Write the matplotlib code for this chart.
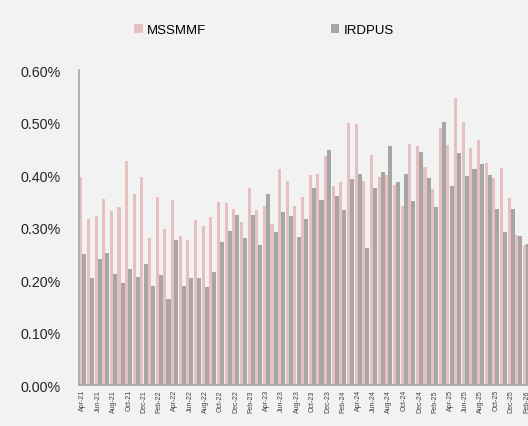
#!/usr/bin/env python3

import numpy as np
from matplotlib import pyplot as plt
from matplotlib.ticker import FuncFormatter

months = ["Apr-21", "May-21", "Jun-21", "Jul-21", "Aug-21", "Sep-21", "Oct-21", "Nov-21",
          "Dec-21", "Jan-22", "Feb-22", "Mar-22", "Apr-22", "May-22", "Jun-22", "Jul-22",
          "Aug-22", "Sep-22", "Oct-22", "Nov-22", "Dec-22", "Jan-23", "Feb-23", "Mar-23",
          "Apr-23", "May-23", "Jun-23", "Jul-23", "Aug-23", "Sep-23", "Oct-23", "Nov-23",
          "Dec-23", "Jan-24", "Feb-24", "Mar-24", "Apr-24", "May-24", "Jun-24", "Jul-24",
          "Aug-24", "Sep-24", "Oct-24", "Nov-24", "Dec-24", "Jan-25", "Feb-25", "Mar-25",
          "Apr-25", "May-25", "Jun-25", "Jul-25", "Aug-25", "Sep-25", "Oct-25", "Nov-25",
          "Dec-25", "Jan-26", "Feb-26"]

# values in percent
mssmmf = [0.396, 0.316, 0.322, 0.354, 0.331, 0.339, 0.427, 0.364, 0.396, 0.280,
          0.358, 0.297, 0.352, 0.284, 0.276, 0.314, 0.303, 0.320, 0.349, 0.347,
          0.335, 0.310, 0.375, 0.333, 0.341, 0.307, 0.411, 0.389, 0.341, 0.358,
          0.400, 0.402, 0.436, 0.379, 0.387, 0.499, 0.497, 0.389, 0.438, 0.396,
          0.400, 0.381, 0.341, 0.459, 0.455, 0.415, 0.373, 0.490, 0.457, 0.547,
          0.501, 0.451, 0.467, 0.423, 0.394, 0.413, 0.356, 0.286, 0.267]
irdpus = [0.250, 0.204, 0.240, 0.251, 0.211, 0.194, 0.221, 0.206, 0.230, 0.189,
          0.209, 0.164, 0.276, 0.189, 0.204, 0.204, 0.187, 0.215, 0.272, 0.293,
          0.324, 0.280, 0.324, 0.267, 0.364, 0.291, 0.330, 0.322, 0.282, 0.316,
          0.375, 0.352, 0.448, 0.360, 0.333, 0.392, 0.402, 0.261, 0.375, 0.406,
          0.455, 0.387, 0.402, 0.350, 0.444, 0.394, 0.339, 0.501, 0.379, 0.442,
          0.398, 0.411, 0.421, 0.400, 0.335, 0.291, 0.335, 0.284, 0.269]

bg = "#f2f2f2"
pink = "#e6bfbf"
grey = "#a6a6a6"

fig = plt.figure(figsize=(5.28, 4.27), dpi=100, facecolor=bg)
ax = fig.add_axes([0.1496, 0.096, 0.8504, 0.7377])
ax.set_facecolor(bg)

x = np.arange(len(months))
ax.bar(x - 0.27, mssmmf, width=0.40, color=pink, label="MSSMMF", zorder=2)
ax.bar(x + 0.20, irdpus, width=0.53, color=grey, label="IRDPUS", zorder=3)

ax.set_ylim(0, 0.6)
ax.set_yticks(np.arange(0, 0.61, 0.1))
ax.yaxis.set_major_formatter(FuncFormatter(lambda v, p: f"{v:.2f}%"))
ax.set_xlim(-0.5, -0.5 + 449 / 7.65)
ax.set_xticks(x[::2])
ax.set_xticklabels(months[::2], rotation=90, fontsize=5, color="#404040",
                   family="Liberation Sans")

for lbl in ax.get_yticklabels():
    lbl.set_family("Liberation Sans")
    lbl.set_fontsize(10.3)
    lbl.set_color("#262626")

ax.tick_params(axis="y", length=0, pad=13)
ax.tick_params(axis="x", length=0, pad=3)
for s in ["top", "right"]:
    ax.spines[s].set_visible(False)
for s in ["left", "bottom"]:
    ax.spines[s].set_color(grey)
    ax.spines[s].set_linewidth(1.2)

fig.legend(loc="center", bbox_to_anchor=(0.5, 0.927), ncol=2, frameon=False,
           handlelength=0.65, handleheight=0.65, handletextpad=0.35,
           columnspacing=9.4, prop={"family": "Liberation Sans", "size": 9.5})

fig.savefig("out.png", dpi=100, facecolor=bg)
